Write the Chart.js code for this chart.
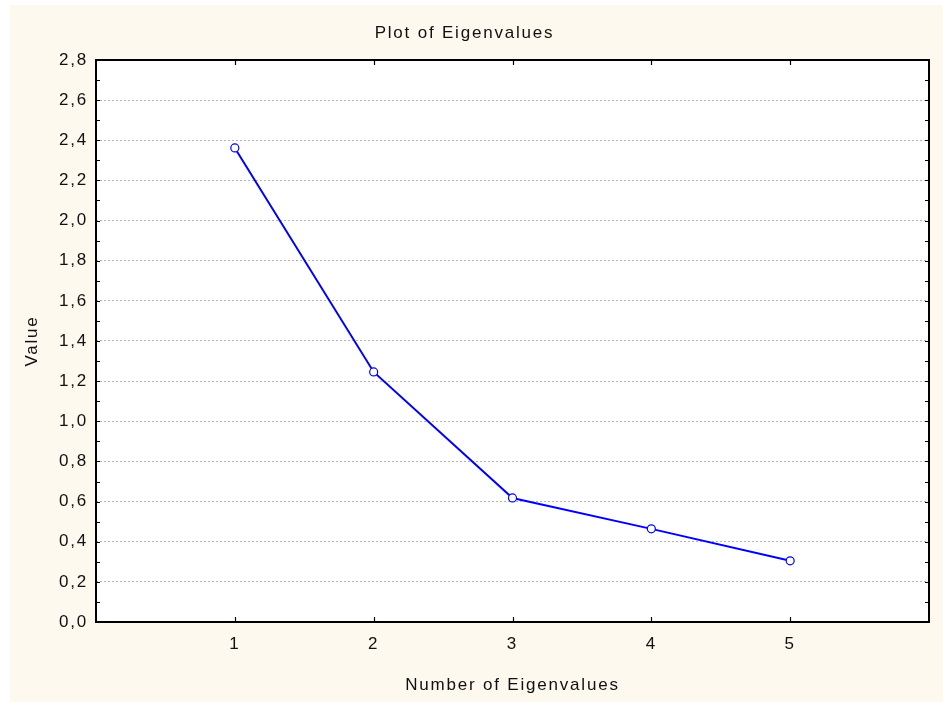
<!DOCTYPE html>
<html>
<head>
<meta charset="utf-8">
<script src="https://cdn.jsdelivr.net/npm/chart.js@4"></script>
<style>
html,body{margin:0;padding:0;background:#fff;}
#wrap{width:943px;height:702px;position:relative;}
</style>
</head>
<body>
<div id="wrap"><canvas id="c" width="943" height="702"></canvas></div>
<script>
const components = [1, 2, 3, 4, 5];
const eigenvalues = [2.362, 1.246, 0.618, 0.464, 0.305];
const xTickLabels = ['1', '2', '3', '4', '5'];
const yTickLabels = ['0,0','0,2','0,4','0,6','0,8','1,0','1,2','1,4','1,6','1,8','2,0','2,2','2,4','2,6','2,8'];
const titleText = 'Plot of Eigenvalues';
const xTitle = 'Number of Eigenvalues';
const yTitle = 'Value';

const FONT = '"Liberation Sans", Arial, Helvetica, sans-serif';

const spacing = {
  id: 'spacing',
  beforeInit(chart) { chart.ctx.letterSpacing = '1.8px'; },
  beforeUpdate(chart) { chart.ctx.letterSpacing = '1.8px'; },
  beforeLayout(chart) { chart.ctx.letterSpacing = '1.8px'; },
  beforeDraw(chart) { chart.ctx.letterSpacing = '1.8px'; }
};

const frame = {
  id: 'frame',
  beforeDraw(chart) {
    const ctx = chart.ctx, a = chart.chartArea;
    ctx.save();
    ctx.fillStyle = '#ffffff';
    ctx.fillRect(0, 0, chart.width, chart.height);
    ctx.fillStyle = '#fdf9ef';
    ctx.fillRect(10, 5, chart.width - 10, chart.height - 5);
    ctx.fillStyle = '#ffffff';
    ctx.fillRect(a.left, a.top, a.right - a.left, a.bottom - a.top);
    ctx.restore();
  },
  afterDraw(chart) {
    const ctx = chart.ctx, a = chart.chartArea;
    const ys = chart.scales.y, xs = chart.scales.x;
    ctx.save();
    ctx.setLineDash([]);
    ctx.strokeStyle = '#000';
    ctx.lineWidth = 1.2;
    ctx.beginPath();
    for (let i = 0; i <= 28; i++) {
      const py = Math.round(ys.getPixelForValue(i / 10)) + 0.5;
      ctx.moveTo(a.left, py); ctx.lineTo(a.left + 4, py);
      ctx.moveTo(a.right, py); ctx.lineTo(a.right - 4, py);
    }
    components.forEach(c => {
      const px = Math.round(xs.getPixelForValue(c)) + 0.5;
      ctx.moveTo(px, a.bottom); ctx.lineTo(px, a.bottom - 5);
      ctx.moveTo(px, a.top); ctx.lineTo(px, a.top + 5);
    });
    ctx.stroke();
    ctx.lineWidth = 2;
    ctx.strokeRect(a.left, a.top, a.right - a.left, a.bottom - a.top);
    ctx.restore();
  }
};

const chart = new Chart(document.getElementById('c'), {
  type: 'line',
  data: {
    datasets: [{
      data: components.map((c, i) => ({ x: c, y: eigenvalues[i] })),
      borderColor: '#0000ff',
      borderWidth: 2,
      pointRadius: 4,
      pointBackgroundColor: '#ffffff',
      pointBorderColor: '#0000ff',
      pointBorderWidth: 1.2,
      tension: 0,
      fill: false
    }]
  },
  options: {
    responsive: false,
    animation: false,
    devicePixelRatio: 1,
    layout: { padding: { left: 0, right: 14, top: 0, bottom: 0 } },
    plugins: {
      legend: { display: false },
      tooltip: { enabled: false },
      title: {
        display: true,
        text: titleText,
        color: '#111',
        font: { family: FONT, size: 17, weight: 'normal', lineHeight: 1.2 },
        padding: { top: 23, bottom: 16.6 }
      }
    },
    scales: {
      x: {
        type: 'linear',
        min: 0, max: 6,
        afterFit(s) { s.height = 80; },
        afterBuildTicks(s) { s.ticks = components.map(v => ({ value: v })); },
        ticks: {
          color: '#111',
          padding: 12,
          font: { family: FONT, size: 17 },
          maxRotation: 0,
          callback: (v, i) => xTickLabels[i]
        },
        grid: { display: false, drawTicks: false },
        border: { display: false },
        title: {
          display: true,
          text: xTitle,
          color: '#111',
          font: { family: FONT, size: 17, lineHeight: 1.2 },
          padding: { top: 0, bottom: 6 }
        }
      },
      y: {
        type: 'linear',
        min: 0, max: 2.8,
        afterFit(s) { s.width = 96; },
        afterBuildTicks(s) { s.ticks = yTickLabels.map((t, i) => ({ value: i * 0.2 })); },
        ticks: {
          color: '#111',
          padding: 8,
          font: { family: FONT, size: 17 },
          callback: (v, i) => yTickLabels[i]
        },
        grid: {
          drawTicks: false,
          color: ctx => (ctx.index === 0 || ctx.index === yTickLabels.length - 1) ? 'rgba(0,0,0,0)' : '#b4b4b4',
          lineWidth: 1
        },
        border: { display: false, dash: [2, 2] },
        title: {
          display: true,
          text: yTitle,
          color: '#111',
          font: { family: FONT, size: 17, lineHeight: 1.2 },
          padding: { top: 22, bottom: 0 }
        }
      }
    }
  },
  plugins: [spacing, frame]
});
</script>
</body>
</html>
